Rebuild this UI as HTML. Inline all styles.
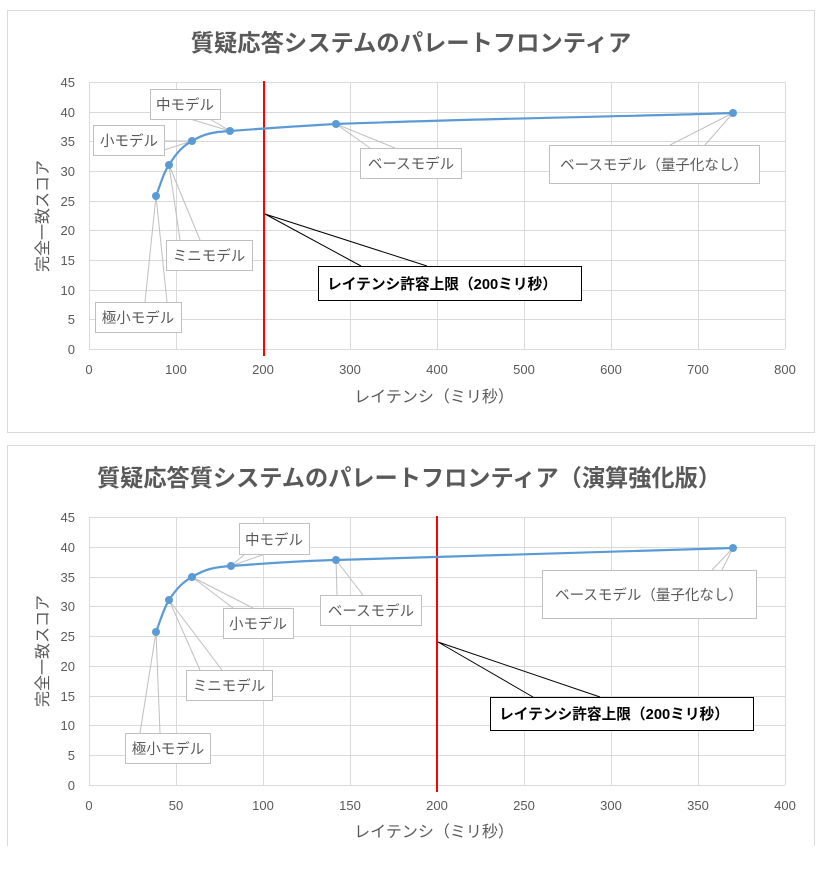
<!DOCTYPE html>
<html><head><meta charset="utf-8"><style>
body{margin:0;background:#fff;width:832px;height:872px;overflow:hidden}
svg text{font-family:"Liberation Sans","Noto Sans CJK JP",sans-serif}
</style></head><body>
<svg width="832" height="872" xmlns="http://www.w3.org/2000/svg">
<rect x="7.5" y="10.5" width="807" height="422" fill="#fff" stroke="#d9d9d9"/>
<path d="M7.5,846 V445.5 H814.5 V846" fill="none" stroke="#d9d9d9"/>

<!-- Chart 1 -->
<text x="411" y="51" text-anchor="middle" font-size="23.3" font-weight="bold" fill="#595959">質疑応答システムのパレートフロンティア</text>
<g stroke="#d9d9d9" stroke-width="1">
<line x1="89" y1="82.5" x2="785" y2="82.5"/><line x1="89" y1="112.5" x2="785" y2="112.5"/><line x1="89" y1="141.5" x2="785" y2="141.5"/><line x1="89" y1="171.5" x2="785" y2="171.5"/><line x1="89" y1="201.5" x2="785" y2="201.5"/><line x1="89" y1="230.5" x2="785" y2="230.5"/><line x1="89" y1="260.5" x2="785" y2="260.5"/><line x1="89" y1="290.5" x2="785" y2="290.5"/><line x1="89" y1="319.5" x2="785" y2="319.5"/><line x1="89" y1="349.5" x2="785" y2="349.5"/>
<line x1="89.5" y1="82" x2="89.5" y2="349"/><line x1="176.5" y1="82" x2="176.5" y2="349"/><line x1="263.5" y1="82" x2="263.5" y2="349"/><line x1="350.5" y1="82" x2="350.5" y2="349"/><line x1="437.5" y1="82" x2="437.5" y2="349"/><line x1="524.5" y1="82" x2="524.5" y2="349"/><line x1="611.5" y1="82" x2="611.5" y2="349"/><line x1="698.5" y1="82" x2="698.5" y2="349"/><line x1="785.5" y1="82" x2="785.5" y2="349"/>
</g>
<g font-size="13" fill="#595959" text-anchor="end">
<text x="75" y="87">45</text><text x="75" y="117">40</text><text x="75" y="146">35</text><text x="75" y="176">30</text><text x="75" y="206">25</text><text x="75" y="235">20</text><text x="75" y="265">15</text><text x="75" y="295">10</text><text x="75" y="324">5</text><text x="75" y="354">0</text>
</g>
<g font-size="13" fill="#595959" text-anchor="middle">
<text x="89" y="374">0</text><text x="176" y="374">100</text><text x="263" y="374">200</text><text x="350" y="374">300</text><text x="437" y="374">400</text><text x="524" y="374">500</text><text x="611" y="374">600</text><text x="698" y="374">700</text><text x="785" y="374">800</text>
</g>
<text x="434" y="402" text-anchor="middle" font-size="16" fill="#595959">レイテンシ（ミリ秒）</text>
<text transform="translate(48,216) rotate(-90)" text-anchor="middle" font-size="16" fill="#595959">完全一致スコア</text>
<line x1="264" y1="81" x2="264" y2="356" stroke="#f00" stroke-width="2"/>
<g stroke="#bfbfbf" fill="none">
<polyline points="190,119 230,131 210,119"/><polyline points="164,141 192,141 164,150"/><polyline points="180,240 169,165 200,240"/><polyline points="145,302 156,196 167,302"/><polyline points="395,148 336,124 370,148"/><polyline points="670,145 733,113 705,145"/>
</g>
<path d="M156,196 C162,180 164,172 169,165 C177,152 183,146 192,141 C205,133 215,132 230,131 C270,128 300,126 336,124 C500,118 650,116 733,113" fill="none" stroke="#5b9bd5" stroke-width="2.2"/>
<g fill="#5b9bd5"><circle cx="156" cy="196" r="4"/><circle cx="169" cy="165" r="4"/><circle cx="192" cy="141" r="4"/><circle cx="230" cy="131" r="4"/><circle cx="336" cy="124" r="4"/><circle cx="733" cy="113" r="4"/></g>
<g fill="#fff" stroke="#bfbfbf">
<rect x="150.5" y="89.5" width="70" height="30"/><rect x="93.5" y="125.5" width="71" height="30"/><rect x="166.5" y="240.5" width="86" height="30"/><rect x="95.5" y="302.5" width="86" height="30"/><rect x="360.5" y="148.5" width="101" height="30"/><rect x="549.5" y="145.5" width="210" height="38"/>
</g>
<g font-size="14.5" fill="#595959" text-anchor="middle">
<text x="185" y="110">中モデル</text><text x="129" y="146">小モデル</text><text x="209" y="261">ミニモデル</text><text x="138" y="323">極小モデル</text><text x="411" y="169">ベースモデル</text><text x="654" y="170">ベースモデル（量子化なし）</text>
</g>
<polyline points="361,266 265,214 427,266" fill="none" stroke="#000"/>
<rect x="318.5" y="266.5" width="263" height="34" fill="#fff" stroke="#000"/>
<text x="442" y="289" text-anchor="middle" font-size="14.7" font-weight="bold" fill="#000">レイテンシ許容上限（200ミリ秒）</text>

<!-- Chart 2 -->
<text x="409" y="486" text-anchor="middle" font-size="23.2" font-weight="bold" fill="#595959">質疑応答質システムのパレートフロンティア（演算強化版）</text>
<g stroke="#d9d9d9" stroke-width="1">
<line x1="89" y1="517.5" x2="785" y2="517.5"/><line x1="89" y1="547.5" x2="785" y2="547.5"/><line x1="89" y1="577.5" x2="785" y2="577.5"/><line x1="89" y1="606.5" x2="785" y2="606.5"/><line x1="89" y1="636.5" x2="785" y2="636.5"/><line x1="89" y1="666.5" x2="785" y2="666.5"/><line x1="89" y1="696.5" x2="785" y2="696.5"/><line x1="89" y1="725.5" x2="785" y2="725.5"/><line x1="89" y1="755.5" x2="785" y2="755.5"/><line x1="89" y1="785.5" x2="785" y2="785.5"/>
<line x1="89.5" y1="517" x2="89.5" y2="785"/><line x1="176.5" y1="517" x2="176.5" y2="785"/><line x1="263.5" y1="517" x2="263.5" y2="785"/><line x1="350.5" y1="517" x2="350.5" y2="785"/><line x1="437.5" y1="517" x2="437.5" y2="785"/><line x1="524.5" y1="517" x2="524.5" y2="785"/><line x1="611.5" y1="517" x2="611.5" y2="785"/><line x1="698.5" y1="517" x2="698.5" y2="785"/><line x1="785.5" y1="517" x2="785.5" y2="785"/>
</g>
<g font-size="13" fill="#595959" text-anchor="end">
<text x="75" y="522">45</text><text x="75" y="552">40</text><text x="75" y="582">35</text><text x="75" y="611">30</text><text x="75" y="641">25</text><text x="75" y="671">20</text><text x="75" y="701">15</text><text x="75" y="730">10</text><text x="75" y="760">5</text><text x="75" y="790">0</text>
</g>
<g font-size="13" fill="#595959" text-anchor="middle">
<text x="89" y="810">0</text><text x="176" y="810">50</text><text x="263" y="810">100</text><text x="350" y="810">150</text><text x="437" y="810">200</text><text x="524" y="810">250</text><text x="611" y="810">300</text><text x="698" y="810">350</text><text x="785" y="810">400</text>
</g>
<text x="434" y="837" text-anchor="middle" font-size="16" fill="#595959">レイテンシ（ミリ秒）</text>
<text transform="translate(48,651) rotate(-90)" text-anchor="middle" font-size="16" fill="#595959">完全一致スコア</text>
<line x1="437" y1="516" x2="437" y2="792" stroke="#f00" stroke-width="2"/>
<g stroke="#bfbfbf" fill="none">
<polyline points="245,554 231,566 265,554"/><polyline points="233,608 192,577 253,608"/><polyline points="200,670 169,600 222,670"/><polyline points="140,733 156,632 160,733"/><polyline points="337,595 336,560 363,595"/><polyline points="722,570 733,548 712,570"/>
</g>
<path d="M156,632 C162,616 164,608 169,600 C177,588 183,582 192,577 C205,569 215,567 231,566 C270,563 300,561 336,560 C500,554 650,551 733,548" fill="none" stroke="#5b9bd5" stroke-width="2.2"/>
<g fill="#5b9bd5"><circle cx="156" cy="632" r="4"/><circle cx="169" cy="600" r="4"/><circle cx="192" cy="577" r="4"/><circle cx="231" cy="566" r="4"/><circle cx="336" cy="560" r="4"/><circle cx="733" cy="548" r="4"/></g>
<g fill="#fff" stroke="#bfbfbf">
<rect x="239.5" y="523.5" width="70" height="31"/><rect x="223.5" y="608.5" width="70" height="30"/><rect x="186.5" y="670.5" width="86" height="30"/><rect x="125.5" y="733.5" width="85" height="30"/><rect x="320.5" y="595.5" width="101" height="30"/><rect x="542.5" y="570.5" width="214" height="48"/>
</g>
<g font-size="14.5" fill="#595959" text-anchor="middle">
<text x="274" y="545">中モデル</text><text x="258" y="629">小モデル</text><text x="229" y="691">ミニモデル</text><text x="168" y="754">極小モデル</text><text x="371" y="616">ベースモデル</text><text x="649" y="600">ベースモデル（量子化なし）</text>
</g>
<polyline points="533,697 438,642 600,697" fill="none" stroke="#000"/>
<rect x="490.5" y="697.5" width="263" height="33" fill="#fff" stroke="#000"/>
<text x="614" y="719" text-anchor="middle" font-size="14.7" font-weight="bold" fill="#000">レイテンシ許容上限（200ミリ秒）</text>
</svg>
</body></html>
